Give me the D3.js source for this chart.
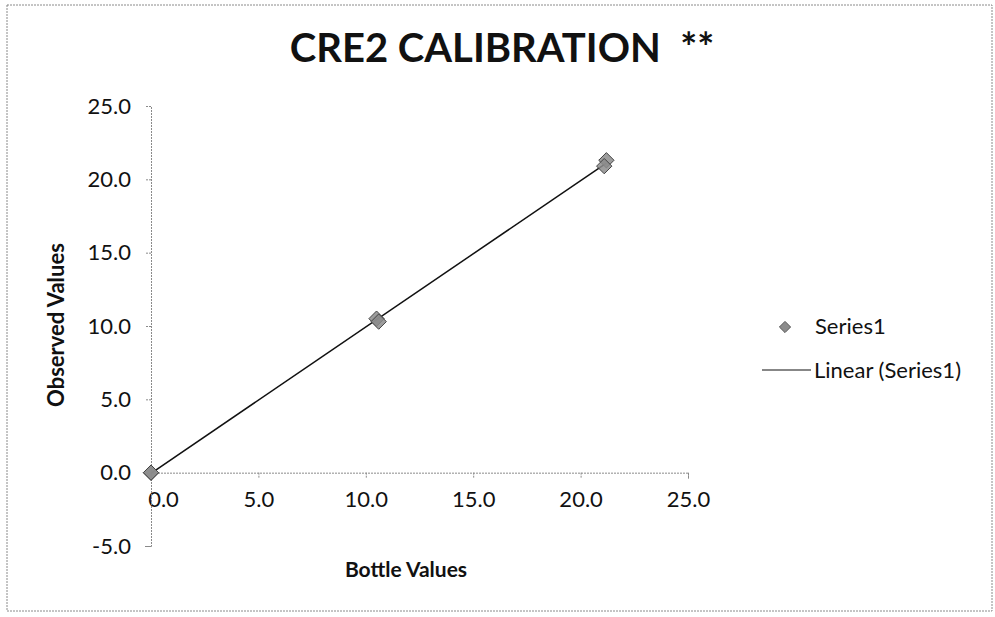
<!DOCTYPE html>
<html>
<head>
<meta charset="utf-8">
<script src="https://cdn.jsdelivr.net/npm/d3@7"></script>
<style>
  body { margin: 0; background: #fff; }
  text { font-family: Lato, "Open Sans", sans-serif; fill: #111; }
</style>
</head>
<body>
<div class="chart"></div>
<script>
// calibration readings (bottle value vs observed value)
const bottleValues = [0.0, 0.0, 10.5, 10.6, 21.2, 21.1]
const observedValues = [0.0, 0.0, 10.5, 10.3, 21.3, 20.9]
const xTicks = [0, 5, 10, 15, 20, 25]
const yTicks = [-5, 0, 5, 10, 15, 20, 25]

let width = 995
let height = 617

let svg = d3.select(".chart")
    .append("svg")
    .attr("width", width)
    .attr("height", height)

// outer chart frame
svg.append("rect")
    .attr("x", 7).attr("y", 5)
    .attr("width", 985).attr("height", 606)
    .attr("fill", "none")
    .attr("stroke", "#8a8a8a")
    .attr("stroke-dasharray", "2,1")

let x = d3.scaleLinear().domain([0, 25]).range([151, 688])
let y = d3.scaleLinear().domain([-5, 25]).range([546, 106])

// plain hyphen for negatives, like the original
let fmt = d => d.toFixed(1)

// x axis sits on y = 0
let xAxis = svg.append("g")
    .attr("transform", "translate(0," + y(0) + ")")
    .call(d3.axisBottom(x).tickValues(xTicks).tickFormat(fmt).tickSize(6).tickPadding(13))
let yAxis = svg.append("g")
    .attr("transform", "translate(" + x(0) + ",0)")
    .call(d3.axisLeft(y).tickValues(yTicks).tickFormat(fmt).tickSize(6).tickPadding(14))

for (let ax of [xAxis, yAxis]) {
    ax.selectAll("path, line").attr("stroke", "#8a8a8a").attr("stroke-dasharray", "2,1")
    ax.selectAll("text").style("font-size", "22px").attr("fill", "#111")
}
xAxis.selectAll(".tick").filter(d => d === 0).select("text").attr("x", 12)

// least squares trendline over the data range
let mx = d3.mean(bottleValues), my = d3.mean(observedValues)
let sxy = d3.sum(bottleValues, (v, i) => (v - mx) * (observedValues[i] - my))
let sxx = d3.sum(bottleValues, v => (v - mx) * (v - mx))
let slope = sxy / sxx
let icpt = my - slope * mx
let [xmin, xmax] = d3.extent(bottleValues)

svg.append("line")
    .attr("x1", x(xmin)).attr("y1", y(icpt + slope * xmin))
    .attr("x2", x(xmax)).attr("y2", y(icpt + slope * xmax))
    .attr("stroke", "#111")
    .attr("stroke-width", 1.5)

let diamond = d3.symbol().type(d3.symbolDiamond2).size(150)

svg.selectAll("path.pt")
    .data(bottleValues)
    .enter()
    .append("path")
    .attr("class", "pt")
    .attr("d", diamond)
    .attr("transform", (d, i) => "translate(" + x(d) + "," + y(observedValues[i]) + ")")
    .attr("fill", "#8c8c8c")
    .attr("stroke", "#444")
    .attr("stroke-width", 1)
    .attr("fill-opacity", 0.85)

// title and axis titles
svg.append("text")
    .text("CRE2 CALIBRATION  **")
    .attr("x", 502).attr("y", 62)
    .style("text-anchor", "middle")
    .style("font-size", "40px")
    .style("font-weight", "bold")
    .attr("xml:space", "preserve")

svg.append("text")
    .text("Bottle Values")
    .attr("x", 406).attr("y", 577)
    .style("text-anchor", "middle")
    .style("font-size", "21px")
    .style("font-weight", "bold")

svg.append("text")
    .text("Observed Values")
    .attr("transform", "translate(64,325) rotate(-90)")
    .style("text-anchor", "middle")
    .style("font-size", "22px")
    .style("font-weight", "bold")

// legend
let legend = svg.append("g").attr("transform", "translate(760,0)")
legend.append("path")
    .attr("d", d3.symbol().type(d3.symbolDiamond2).size(80))
    .attr("transform", "translate(25,327)")
    .attr("fill", "#8c8c8c")
    .attr("stroke", "#555")
legend.append("text")
    .text("Series1")
    .attr("x", 55).attr("y", 334)
    .style("font-size", "22px")
legend.append("line")
    .attr("x1", 2).attr("x2", 51)
    .attr("y1", 370).attr("y2", 370)
    .attr("stroke", "#111")
    .attr("stroke-width", 1.2)
legend.append("text")
    .text("Linear (Series1)")
    .attr("x", 54).attr("y", 378)
    .style("font-size", "22px")
</script>
</body>
</html>
